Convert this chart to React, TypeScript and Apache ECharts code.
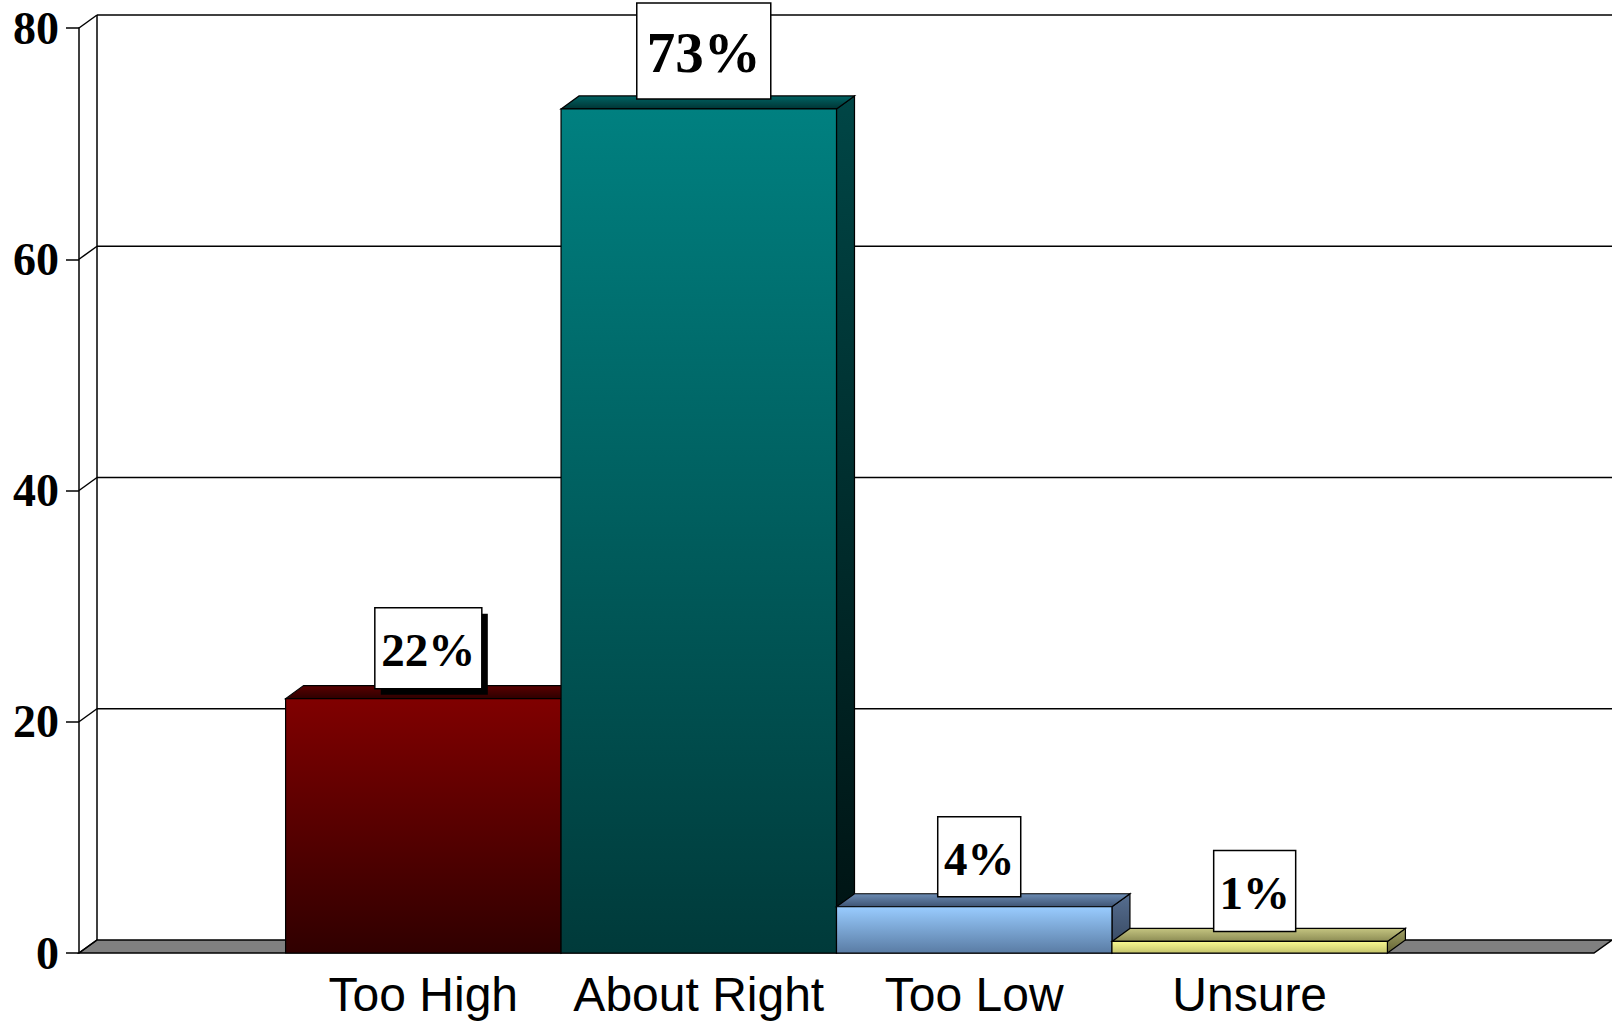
import React, { useEffect, useRef } from "react";
import * as echarts from "echarts";

const categories = ["Too High", "About Right", "Too Low", "Unsure"];
const values = [22, 73, 4, 1];
const valueLabels = ["22%", "73%", "4%", "1%"];
const yTicks = [0, 20, 40, 60, 80];

const X_MIN = -1.25;
const X_MAX = 4.25;
const DX = 18;
const DY = -13;

const barColors = [
  { front: ["#800000", "#300000"], top: ["#5a0000", "#2e0000"], side: ["#4a0000", "#1a0000"] },
  { front: ["#008080", "#003a3a"], top: ["#006464", "#003434"], side: ["#004646", "#001212"] },
  { front: ["#99ccff", "#5a7ca4"], top: ["#6c8cb4", "#3e5474"], side: ["#566e90", "#34445c"] },
  { front: ["#f8f890", "#c4c46c"], top: ["#c4c480", "#8c8c54"], side: ["#a0a064", "#646434"] },
];

const labelStyles = [
  { fontSize: 47, w: 107, h: 81, shadow: true },
  { fontSize: 57, w: 134, h: 96, shadow: false },
  { fontSize: 47, w: 83, h: 80, shadow: false },
  { fontSize: 47, w: 82, h: 81, shadow: false },
];

const grad = (c: string[]) => ({
  type: "linear",
  x: 0,
  y: 0,
  x2: 0,
  y2: 1,
  colorStops: [
    { offset: 0, color: c[0] },
    { offset: 1, color: c[1] },
  ],
});

export default function App() {
  const ref = useRef<HTMLDivElement>(null);
  useEffect(() => {
    if (!ref.current) return;
    const chart = echarts.init(ref.current, null, { renderer: "svg" });
    const option: any = {
      animation: false,
      backgroundColor: "#ffffff",
      grid: { left: 79, right: 18, top: 28, bottom: 68, containLabel: false, outerBoundsMode: "none" },
      xAxis: {
        type: "value",
        min: X_MIN,
        max: X_MAX,
        axisLine: { show: false, onZero: false },
        axisTick: { show: false },
        splitLine: { show: false },
        axisLabel: {
          customValues: [0, 1, 2, 3],
          formatter: (v: number) => categories[Math.round(v)] ?? "",
          fontFamily: "Liberation Sans, Arial, sans-serif",
          fontSize: 48,
          color: "#000",
          margin: 17,
        },
      },
      yAxis: {
        type: "value",
        min: 0,
        max: 80,
        interval: 20,
        axisLine: { show: true, onZero: false, lineStyle: { color: "#000", width: 1.5 } },
        axisTick: { show: true, length: 13, lineStyle: { color: "#000", width: 1.5 } },
        splitLine: { show: false },
        axisLabel: {
          fontFamily: "Liberation Serif, Times New Roman, serif",
          fontWeight: "bold",
          fontSize: 46,
          color: "#000",
          margin: 20,
        },
      },
      series: [
        {
          type: "custom",
          clip: false,
          silent: true,
          data: yTicks.map((v) => [X_MIN, v]),
          renderItem: (params: any, api: any) => {
            const v = api.value(1);
            const f = api.coord([X_MIN, v]);
            const fr = api.coord([X_MAX, v]);
            const b = [f[0] + DX, f[1] + DY];
            const br = [fr[0] + DX, fr[1] + DY];
            const children: any[] = [];
            const ls = { stroke: "#000", lineWidth: 1.5, fill: null };
            if (v === 0) {
              children.push({
                type: "polygon",
                shape: { points: [f, fr, br, b] },
                style: { fill: "#808080", stroke: "#000", lineWidth: 1.5 },
              });
              const top = api.coord([X_MIN, yTicks[yTicks.length - 1]]);
              children.push({
                type: "line",
                shape: { x1: b[0], y1: b[1], x2: top[0] + DX, y2: top[1] + DY },
                style: ls,
              });
            } else {
              children.push({
                type: "line",
                shape: { x1: b[0], y1: b[1], x2: br[0], y2: br[1] },
                style: ls,
              });
            }
            children.push({
              type: "line",
              shape: { x1: f[0], y1: f[1], x2: b[0], y2: b[1] },
              style: ls,
            });
            return { type: "group", children };
          },
        },
        {
          type: "custom",
          clip: false,
          silent: true,
          data: values.map((v, i) => [i, v]),
          renderItem: (params: any, api: any) => {
            const i = api.value(0);
            const v = api.value(1);
            const tl = api.coord([i - 0.5, v]);
            const brc = api.coord([i + 0.5, 0]);
            const c = barColors[params.dataIndex];
            const st = { stroke: "#000", lineWidth: 1.2 };
            return {
              type: "group",
              children: [
                {
                  type: "polygon",
                  shape: {
                    points: [
                      [brc[0], tl[1]],
                      [brc[0] + DX, tl[1] + DY],
                      [brc[0] + DX, brc[1] + DY],
                      [brc[0], brc[1]],
                    ],
                  },
                  style: { ...st, fill: grad(c.side) },
                },
                {
                  type: "polygon",
                  shape: {
                    points: [
                      [tl[0], tl[1]],
                      [tl[0] + DX, tl[1] + DY],
                      [brc[0] + DX, tl[1] + DY],
                      [brc[0], tl[1]],
                    ],
                  },
                  style: { ...st, fill: grad(c.top) },
                },
                {
                  type: "rect",
                  shape: { x: tl[0], y: tl[1], width: brc[0] - tl[0], height: brc[1] - tl[1] },
                  style: { ...st, fill: grad(c.front) },
                },
              ],
            };
          },
        },
        {
          type: "custom",
          clip: false,
          silent: true,
          data: values.map((v, i) => [i, v]),
          renderItem: (params: any, api: any) => {
            const i = api.value(0);
            const v = api.value(1);
            const p = api.coord([i, v]);
            const s = labelStyles[params.dataIndex];
            const cx = p[0] + 5;
            const bottom = p[1] - 10;
            const x = cx - s.w / 2;
            const y = bottom - s.h;
            const children: any[] = [];
            if (s.shadow) {
              children.push({
                type: "rect",
                shape: { x: x + 6, y: y + 6, width: s.w, height: s.h },
                style: { fill: "#000" },
              });
            }
            children.push({
              type: "rect",
              shape: { x, y, width: s.w, height: s.h },
              style: { fill: "#fff", stroke: "#000", lineWidth: 1.5 },
            });
            children.push({
              type: "text",
              style: {
                x: cx,
                y: y + s.h / 2 + 2,
                text: valueLabels[params.dataIndex],
                fontFamily: "Liberation Serif, Times New Roman, serif",
                fontWeight: "bold",
                fontSize: s.fontSize,
                fill: "#000",
                align: "center",
                verticalAlign: "middle",
              },
            });
            return { type: "group", children };
          },
        },
      ],
    };
    chart.setOption(option);
    return () => chart.dispose();
  }, []);
  return (
    <div
      ref={ref}
      style={{ position: "fixed", left: 0, top: 0, width: 1612, height: 1021, background: "#fff" }}
    />
  );
}
